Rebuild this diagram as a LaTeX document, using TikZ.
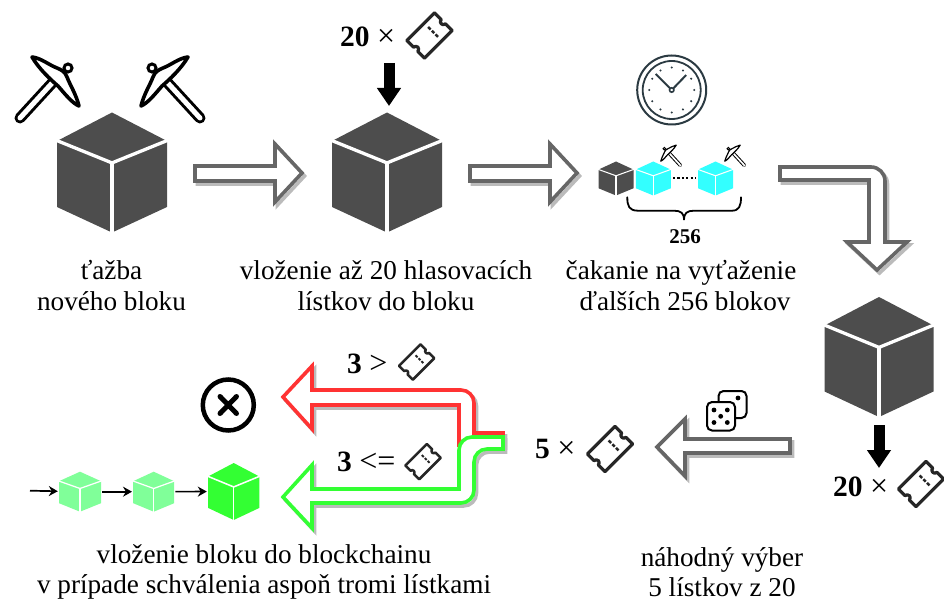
\documentclass[tikz,border=0pt]{standalone}
\usepackage{fontspec}
\setmainfont{Liberation Serif}
\usetikzlibrary{arrows.meta}
\definecolor{cubedark}{HTML}{4D4D4D}
\definecolor{cubecyan}{HTML}{33FFFF}
\definecolor{cubegreen}{HTML}{33FF33}
\definecolor{cubelight}{HTML}{80FF99}
\definecolor{arrowgray}{HTML}{666666}
\definecolor{arrowshade}{HTML}{BBBBBB}
\definecolor{arrowred}{HTML}{FF3333}
\definecolor{clockink}{HTML}{2B3A42}
\tikzset{
  caption/.style={align=center,font=\fontsize{27.2}{30.5}\selectfont,inner sep=0pt},
  count/.style={anchor=west,font=\fontsize{29.5}{30}\selectfont,inner sep=0pt},
  countsmall/.style={font=\fontsize{21}{24}\selectfont\bfseries,inner sep=0pt},
  dropblack/.style={line width=11pt,-{Triangle[length=18pt,width=23pt]}},
  chain/.style={line width=1.7pt,-{Stealth[length=9pt,width=10pt]},shorten >=1pt,shorten <=1pt},
}
\newcommand{\opsign}[1]{{\fontsize{32}{32}\selectfont #1}}
% name, x, y, half width, half height, colour
\newcommand{\isocube}[6]{%
  \node[minimum width={2*#4 pt},minimum height={2*#5 pt},inner sep=0pt] (#1) at (#2,#3) {};
  \begin{scope}[shift={(#2,#3)},xscale=#4,yscale=#5]
    \fill[#6] (0,-1) -- (1,-.525) -- (1,.575) -- (0,1) -- (-1,.575) -- (-1,-.525) -- cycle;
    \draw[white,line width={#4*.06 pt}] (-1.05,-.55) -- (0,-.16) -- (1.05,-.55);
    \draw[white,line width={#4*.06 pt}] (0,-.16) -- (0,1.05);
  \end{scope}}
% x, y, scale
\newcommand{\ticket}[3]{%
  \begin{scope}[shift={(#1,#2)},rotate=45,scale=#3]
    \draw[black!85,line width={3.2*#3 pt},line join=round]
      (-19.5,-12.5) -- (19.5,-12.5) -- (19.5,-3) arc[start angle=-90,end angle=-270,radius=3]
      -- (19.5,12.5) -- (-19.5,12.5) -- (-19.5,3) arc[start angle=90,end angle=-90,radius=3] -- cycle;
    \draw[black!85,line width={2.4*#3 pt}] (5,-7) -- (5,-3.5) (5,-1.7) -- (5,1.7) (5,3.5) -- (5,7);
  \end{scope}}
% x, y, xscale, scale
\newcommand{\pickaxe}[4]{%
  \begin{scope}[shift={(#1,#2)},xscale={#3*#4},yscale=#4]
    \draw[black,line width={11*#4 pt},line cap=round] (3,3) -- (37,40);
    \draw[white,line width={5*#4 pt},line cap=round] (3,3) -- (37,40);
    \draw[black,fill=white,line width={3*#4 pt}] (-11,-10) circle[radius=4];
    \draw[black,fill=white,line width={3.6*#4 pt},line join=round]
      (25,-21) .. controls (16,-20) and (8,-13) .. (0,-10)
      .. controls (-5,-8) and (-8,-6) .. (-10,-1)
      .. controls (-13,7) and (-19,16) .. (-22,28)
      .. controls (-15,25) and (-8,16) .. (-1,8)
      .. controls (6,2) and (18,-9) .. (25,-21) -- cycle;
  \end{scope}}
\newcommand{\blockarrow}[2]{%
  \draw[arrowshade,line width=3.6pt,shift={(2.5,3)}] #2;
  \draw[#1,fill=white,line width=3.6pt] #2;}
\begin{document}
\begin{tikzpicture}[x=1pt,y=-1pt]
\useasboundingbox (0,0) rectangle (944,601);

% picks and cubes
\pickaxe{57}{78}{-1}{1}
\pickaxe{163}{78}{1}{1}
\isocube{cubeA}{112}{172.5}{55}{60}{cubedark}
\isocube{cubeB}{387}{172.5}{55}{60}{cubedark}
\isocube{cubeC}{879}{357}{54.5}{60}{cubedark}

% block arrows
\blockarrow{arrowgray}{(195,166) -- (275,166) -- (275,144) -- (302,173) -- (275,202) -- (275,181) -- (195,181) -- cycle}
\blockarrow{arrowgray}{(470,166) -- (550,166) -- (550,144) -- (577,173) -- (550,202) -- (550,181) -- (470,181) -- cycle}
\blockarrow{arrowgray}{(780,167) [rounded corners=14pt] -- (885,167) [sharp corners] -- (885,242) -- (907,242) -- (877,270) -- (847,242) -- (869,242) -- (869,180) -- (780,180) -- cycle}
\blockarrow{arrowgray}{(790,439) -- (685,439) -- (685,419) -- (657,447) -- (685,476) -- (685,453) -- (790,453) -- cycle}
\blockarrow{arrowred}{(503,433) -- (474,433) [rounded corners=13pt] -- (474,390) [sharp corners] -- (312,390) -- (312,366) -- (283,397) -- (312,429) -- (312,405) -- (459,405) -- (459,445) -- (503,445) -- cycle}
\blockarrow{cubegreen}{(503,437) [rounded corners=13pt] -- (459,437) [sharp corners] -- (459,489) -- (312,489) -- (312,465) -- (283,497) -- (312,528) -- (312,503) [rounded corners=13pt] -- (474,503) -- (474,449) [sharp corners] -- (503,449) -- cycle}

% top ticket group
\node[count] (countA) at (340,37) {\textbf{20} \opsign{×}};
\ticket{429.5}{35.5}{1}
\coordinate (dropAs) at (389,63);
\coordinate (dropAe) at (389,106);
\draw[dropblack] (dropAs) -- (dropAe);

% clock
\begin{scope}[shift={(671.7,90)},clockink]
  \draw[line width=2pt] (0,0) circle[radius=34.5];
  \draw[line width=1.8pt] (0,0) circle[radius=29];
  \foreach \a in {0,30,...,330} \fill ({22.5*cos(\a)},{22.5*sin(\a)}) circle[radius=1.2];
  \draw[line width=2pt] (-1.5,-1.5) -- (-16,-16);
  \draw[line width=2pt] (1.5,-1.5) -- (14.5,-15);
  \draw[line width=1.6pt] (0,0) circle[radius=2.2];
\end{scope}

% waiting blocks
\isocube{cubeD}{616}{178.5}{17.5}{17}{cubedark}
\isocube{cubeE}{653.3}{178.5}{17.5}{17}{cubecyan}
\isocube{cubeF}{715.5}{178.5}{17.5}{17}{cubecyan}
\draw[black,line width=2pt,dash pattern=on 2.2pt off 2.2pt,shorten >=2pt,shorten <=2pt] (cubeE) -- (cubeF);
\pickaxe{668}{152}{1}{.33}
\pickaxe{732}{152}{1}{.33}
\draw[black,line width=1.8pt,line cap=round] (627.3,197.3) .. controls (627.3,206) and (629,210.7) .. (638,210.7) -- (674,210.7) .. controls (681,210.7) and (684,213) .. (684,220)
  .. controls (684,213) and (687,210.7) .. (694,210.7) -- (732,210.7) .. controls (739,210.7) and (741,206) .. (741,197.3);
\node[countsmall] (count256) at (685,237) {256};

% captions
\node[caption] (capA) at (111.5,285.5) {ťažba\\nového bloku};
\node[caption] (capB) at (386,285.5) {vloženie až 20 hlasovacích\\lístkov do bloku};
\node[caption] (capC) at (681,285.5) {čakanie na vyťaženie\\\hspace*{8pt}ďalších 256 blokov};
\node[caption] (capD) at (722,572) {náhodný výber\\5 lístkov z 20};
\node[caption] (capE) at (264,572) {vloženie bloku do blockchainu\\v prípade schválenia aspoň tromi lístkami};

% right ticket group
\coordinate (dropBs) at (879,425);
\coordinate (dropBe) at (879,468);
\draw[dropblack] (dropBs) -- (dropBe);
\node[count] (countB) at (833,487) {\textbf{20} \opsign{×}};
\ticket{921}{484}{1}

% dice
\draw[black,fill=white,line width=2pt,rounded corners=5pt] (718.5,391) rectangle (746.5,418);
\fill (738,398) circle[radius=2.4];
\draw[black,fill=white,line width=2pt,rounded corners=5pt] (707,402) rectangle (735,430.5);
\foreach \px/\py in {714/410,727.3/410,720.7/416.3,714/422.5,727.3/422.5} \fill (\px,\py) circle[radius=2.4];

% selected tickets
\node[count] (countC) at (535,449) {\textbf{5} \opsign{×}};
\ticket{610}{449}{1}
\node[count] (countD) at (347,364) {\textbf{3} \opsign{>}};
\ticket{416.7}{362}{.78}
\node[count] (countE) at (337,462) {\textbf{3} \opsign{<=}};
\ticket{423}{461.7}{.78}

% rejected
\node[circle,draw=black,line width=4.5pt,minimum size=51pt,inner sep=0pt] (reject) at (228.3,405) {};
\draw[black,line width=5pt,line cap=round] (220,396.5) -- (236.5,413.5) (236.5,396.5) -- (220,413.5);

% chain
\isocube{chainA}{80}{491.7}{21}{20}{cubelight}
\isocube{chainB}{153.7}{491.7}{20.5}{20}{cubelight}
\isocube{chainC}{233.7}{491.5}{25.7}{28.5}{cubegreen}
\coordinate (chainStart) at (30,490.7);
\draw[chain,shorten <=0pt] (chainStart) -- (chainA);
\draw[chain] (chainA) -- (chainB);
\draw[chain] (chainB) -- (chainC);
\end{tikzpicture}
\end{document}
